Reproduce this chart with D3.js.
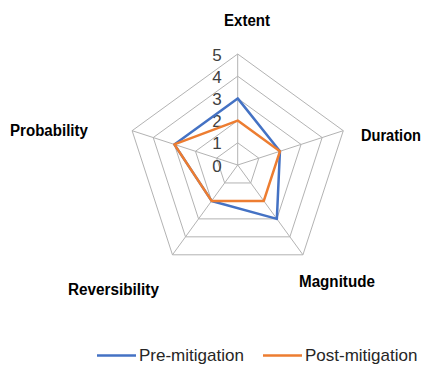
<!DOCTYPE html>
<html><head><meta charset="utf-8">
<script src="https://cdn.jsdelivr.net/npm/d3@7"></script>
<style>body{margin:0;background:#fff;}svg{display:block;}</style>
</head><body>
<svg id="c" width="428" height="366"></svg>
<script>
const categories = ["Extent", "Duration", "Magnitude", "Reversibility", "Probability"];
const preMitigation = [3, 2, 3, 2, 3];
const postMitigation = [2, 2, 2, 2, 3];
const tickValues = [0, 1, 2, 3, 4, 5];
const seriesNames = ["Pre-mitigation", "Post-mitigation"];
const seriesColors = ["#4472C4", "#ED7D31"];

const svg = d3.select("#c");
const cx = 237.7, cy = 165;
const r = d3.scaleLinear().domain([0, 5]).range([0, 111]);
const angle = d3.scaleLinear().domain([0, categories.length]).range([-Math.PI / 2, 1.5 * Math.PI]);
const pt = (i, v) => [cx + r(v) * Math.cos(angle(i)), cy + r(v) * Math.sin(angle(i))];

const g = svg.append("g");
tickValues.filter(t => t > 0).forEach(t => {
  g.append("polygon")
    .attr("points", categories.map((c, i) => pt(i, t).join(",")).join(" "))
    .attr("fill", "none").attr("stroke", "#b3b3b3").attr("stroke-width", 1);
});
categories.forEach((c, i) => {
  const p = pt(i, 5);
  g.append("line").attr("x1", cx).attr("y1", cy).attr("x2", p[0]).attr("y2", p[1])
    .attr("stroke", "#b3b3b3").attr("stroke-width", 1);
});
tickValues.forEach(t => {
  g.append("text").attr("x", cx - 16).attr("y", cy - r(t) + 6.5)
    .attr("text-anchor", "end").attr("font-family", "Liberation Sans, Arial, sans-serif")
    .attr("font-size", 17).attr("fill", "#404040").text(t);
});
[preMitigation, postMitigation].forEach((vals, s) => {
  g.append("polygon")
    .attr("points", vals.map((v, i) => pt(i, v).join(",")).join(" "))
    .attr("fill", "none").attr("stroke", seriesColors[s]).attr("stroke-width", 2.5)
    .attr("stroke-linejoin", "round");
});
const labelPos = [[224, 26, 46], [361, 141, 60], [299, 287, 76], [68, 295, 91], [10, 136, 78]];
categories.forEach((c, i) => {
  const t = g.append("text").attr("x", 0).attr("y", 0)
    .attr("font-family", "Liberation Sans Narrow, Arial Narrow, Liberation Sans, sans-serif").attr("font-weight", "bold")
    .attr("font-size", 17).attr("fill", "#000").text(c);
  const w = t.node().getComputedTextLength();
  const sx = labelPos[i][2] / w;
  t.attr("transform", `translate(${labelPos[i][0]},${labelPos[i][1]}) scale(${sx},1)`);
});
const legX = [97, 263];
seriesNames.forEach((n, s) => {
  svg.append("line").attr("x1", legX[s]).attr("x2", legX[s] + 39).attr("y1", 355.5).attr("y2", 355.5)
    .attr("stroke", seriesColors[s]).attr("stroke-width", 2.5);
  svg.append("text").attr("x", legX[s] + 42).attr("y", 361)
    .attr("font-family", "Liberation Sans, Arial, sans-serif").attr("font-size", 17)
    .attr("fill", "#262626").text(n);
});
</script>
</body></html>
